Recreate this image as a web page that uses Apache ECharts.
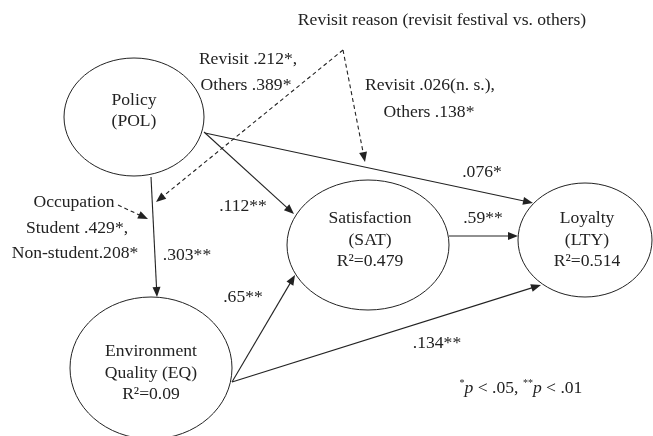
<!DOCTYPE html>
<html>
<head>
<meta charset="utf-8">
<script src="https://cdn.jsdelivr.net/npm/echarts@6/dist/echarts.min.js"></script>
<style>
  html, body { margin: 0; padding: 0; background: #fff; }
  #main { width: 653px; height: 436px; }
</style>
</head>
<body>
<div id="main"></div>
<script>
// latent variables (diagram units)
const nodeX = [134, 368, 585, 151];
const nodeY = [117, 245, 240, 368];
const nodeRx = [70, 81, 67, 81];
const nodeRy = [59, 65, 57, 71];
const nodeLabels = ['Policy\n(POL)', 'Satisfaction\n(SAT)\nR²=0.479', 'Loyalty\n(LTY)\nR²=0.514', 'Environment\nQuality (EQ)\nR²=0.09'];
const nodeLabelX = [134, 370, 587, 151];
const nodeLabelY = [111, 240, 240, 373];

// paths: start -> end, dashed = moderator
const pathX1 = [151, 204, 205, 232, 232, 449, 343, 343, 118];
const pathY1 = [177, 132, 133, 382, 382, 236, 50, 50, 205];
const pathX2 = [157, 294, 533, 295, 541, 518, 156, 365, 148];
const pathY2 = [297, 214, 203, 275, 285, 236, 202, 162, 219];
const pathDashed = [false, false, false, false, false, false, true, true, true];

// path coefficients
const edgeLabels = ['.303**', '.112**', '.076*', '.65**', '.59**', '.134**'];
const edgeLabelX = [187, 243, 482, 243, 483, 437];
const edgeLabelY = [255, 206, 172, 297, 218, 343];

// moderator notes
const noteLabels = ['Revisit reason (revisit festival vs. others)', 'Revisit .212*,', 'Others .389*',
  'Revisit .026(n. s.),', 'Others .138*', 'Occupation', 'Student .429*,', 'Non-student.208*'];
const noteX = [442, 248, 246, 430, 429, 74, 77, 75];
const noteY = [20, 59, 85, 85, 112, 202, 228, 253];

const footnote = '{sup|*}{it|p} < .05, {sup|**}{it|p} < .01';
const footX = 521, footY = 388;

const INK = '#222';
const FONT = '"Liberation Serif", "Times New Roman", serif';

let texts = [];
nodeLabels.forEach((t, i) => texts.push([nodeLabelX[i], nodeLabelY[i], t]));
edgeLabels.forEach((t, i) => texts.push([edgeLabelX[i], edgeLabelY[i], t]));
noteLabels.forEach((t, i) => texts.push([noteX[i], noteY[i], t]));
texts.push([footX, footY, footnote]);

const chart = echarts.init(document.getElementById('main'));
chart.setOption({
  animation: false,
  grid: { left: 0, right: 0, top: 0, bottom: 0 },
  xAxis: { type: 'value', min: 0, max: 653, show: false },
  yAxis: { type: 'value', min: 0, max: 436, inverse: true, show: false },
  series: [
    {
      type: 'custom',
      data: nodeX.map((x, i) => [x, nodeY[i], nodeRx[i], nodeRy[i]]),
      renderItem: (params, api) => {
        const c = api.coord([api.value(0), api.value(1)]);
        const s = api.size([api.value(2), api.value(3)]);
        return {
          type: 'ellipse',
          shape: { cx: c[0], cy: c[1], rx: s[0], ry: s[1] },
          style: { fill: 'none', stroke: INK, lineWidth: 1 }
        };
      }
    },
    {
      type: 'custom',
      data: pathX1.map((x, i) => [x, pathY1[i], pathX2[i], pathY2[i]]),
      renderItem: (params, api) => {
        const i = params.dataIndex;
        const p1 = api.coord([api.value(0), api.value(1)]);
        const p2 = api.coord([api.value(2), api.value(3)]);
        const dx = p2[0] - p1[0], dy = p2[1] - p1[1];
        const len = Math.hypot(dx, dy);
        const ux = dx / len, uy = dy / len;
        const hl = 10, hw = 4;
        const bx = p2[0] - ux * hl, by = p2[1] - uy * hl;
        return {
          type: 'group',
          children: [
            {
              type: 'line',
              shape: { x1: p1[0], y1: p1[1], x2: bx + ux * 2, y2: by + uy * 2 },
              style: { stroke: INK, lineWidth: 1.1, lineDash: pathDashed[i] ? [4, 3] : null }
            },
            {
              type: 'polygon',
              shape: { points: [p2, [bx - uy * hw, by + ux * hw], [bx + uy * hw, by - ux * hw]] },
              style: { fill: INK }
            }
          ]
        };
      }
    },
    {
      type: 'custom',
      data: texts.map(t => [t[0], t[1]]),
      renderItem: (params, api) => {
        const c = api.coord([api.value(0), api.value(1)]);
        return {
          type: 'text',
          x: c[0],
          y: c[1],
          style: {
            text: texts[params.dataIndex][2],
            fill: INK,
            fontFamily: FONT,
            fontSize: 17.6,
            lineHeight: 21.5,
            align: 'center',
            verticalAlign: 'middle',
            rich: {
              sup: { fontSize: 10, fontFamily: FONT, fill: INK, padding: [0, 0, 9, 0] },
              it: { fontSize: 17.6, fontFamily: FONT, fontStyle: 'italic', fill: INK }
            }
          }
        };
      }
    }
  ]
});
</script>
</body>
</html>
